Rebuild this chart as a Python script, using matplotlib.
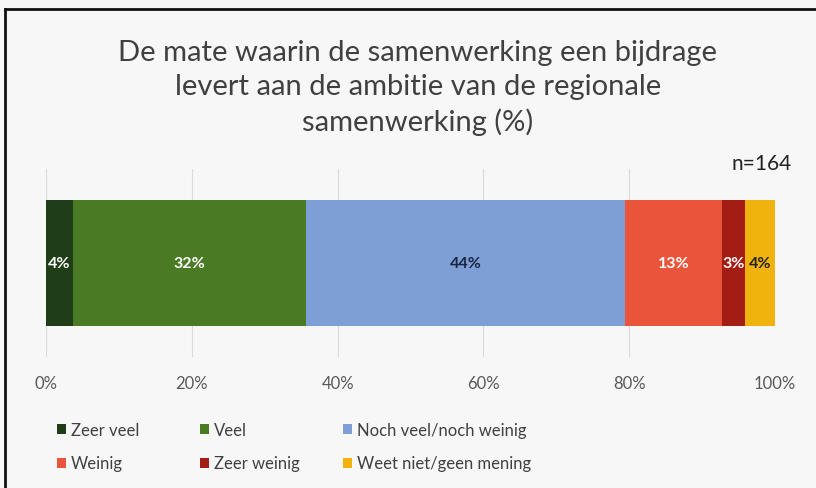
import matplotlib
matplotlib.use("Agg")
import matplotlib.pyplot as plt
from matplotlib.lines import Line2D
from matplotlib.patches import Patch

# --- DATA ---
categories = ["Zeer veel", "Veel", "Noch veel/noch weinig", "Weinig", "Zeer weinig", "Weet niet/geen mening"]
values = [3.7, 32.0, 43.7, 13.3, 3.2, 4.1]
value_labels = ["4%", "32%", "44%", "13%", "3%", "4%"]
colors = ["#1f3d16", "#4b7a24", "#7d9fd6", "#e8553a", "#a41d14", "#f0b20c"]
label_colors = ["white", "white", "#1a2540", "white", "white", "#222222"]
ticks = [0, 20, 40, 60, 80, 100]
tick_labels = ["0%", "20%", "40%", "60%", "80%", "100%"]
title = "De mate waarin de samenwerking een bijdrage\nlevert aan de ambitie van de regionale\nsamenwerking (%)"

plt.rcParams["font.family"] = ["Lato", "DejaVu Sans"]

fig = plt.figure(figsize=(8.16, 4.89), dpi=100)
fig.patch.set_facecolor("#f7f7f7")
ax = fig.add_axes([46 / 816, 1 - 358 / 489, (775 - 46) / 816, (358 - 170) / 489])
ax.set_facecolor("#f7f7f7")

left = 0
for v, c, lab, lc in zip(values, colors, value_labels, label_colors):
    ax.barh(0, v, left=left, height=0.67, color=c)
    ax.text(left + v / 2, 0, lab, ha="center", va="center", color=lc,
            fontsize=11.5, fontweight="bold")
    left += v

ax.set_xlim(0, 100)
ax.set_ylim(-0.5, 0.5)
ax.set_xticks(ticks)
ax.set_xticklabels(tick_labels, color="#595959", fontsize=12)
ax.set_yticks([])
ax.tick_params(axis="x", length=0, pad=13)
ax.grid(axis="x", color="#d9d9d9", linewidth=0.8)
ax.set_axisbelow(True)
for s in ax.spines.values():
    s.set_visible(False)

fig.text(418 / 816, 1 - 88 / 489, title, ha="center", va="center",
         fontsize=21, color="#404040", linespacing=1.38)
fig.text(792 / 816, 1 - 164 / 489, "n=164", ha="right", va="center",
         fontsize=15, color="#222222")

# legend: three columns of two rows, filled row by row
col_x = [57, 200, 343]
for j, x in enumerate(col_x):
    idx = [j, j + 3]
    handles = [Patch(facecolor=colors[i], edgecolor="none") for i in idx]
    leg = fig.legend(handles, [categories[i] for i in idx], loc="upper left",
                     bbox_to_anchor=(x / 816, 1 - 423 / 489), frameon=False,
                     fontsize=12, handlelength=0.55, handleheight=0.55,
                     handletextpad=0.3, labelspacing=1.05, borderpad=0,
                     borderaxespad=0, labelcolor="#404040")

# frame border (top and left visible in reference)
fig.add_artist(Line2D([5 / 816, 5 / 816], [0, 1 - 10 / 489], color="#111111",
                      linewidth=2, transform=fig.transFigure))
fig.add_artist(Line2D([5 / 816, 1], [1 - 10 / 489, 1 - 10 / 489], color="#111111",
                      linewidth=2, transform=fig.transFigure))

fig.savefig("out.png", dpi=100, facecolor=fig.get_facecolor())
